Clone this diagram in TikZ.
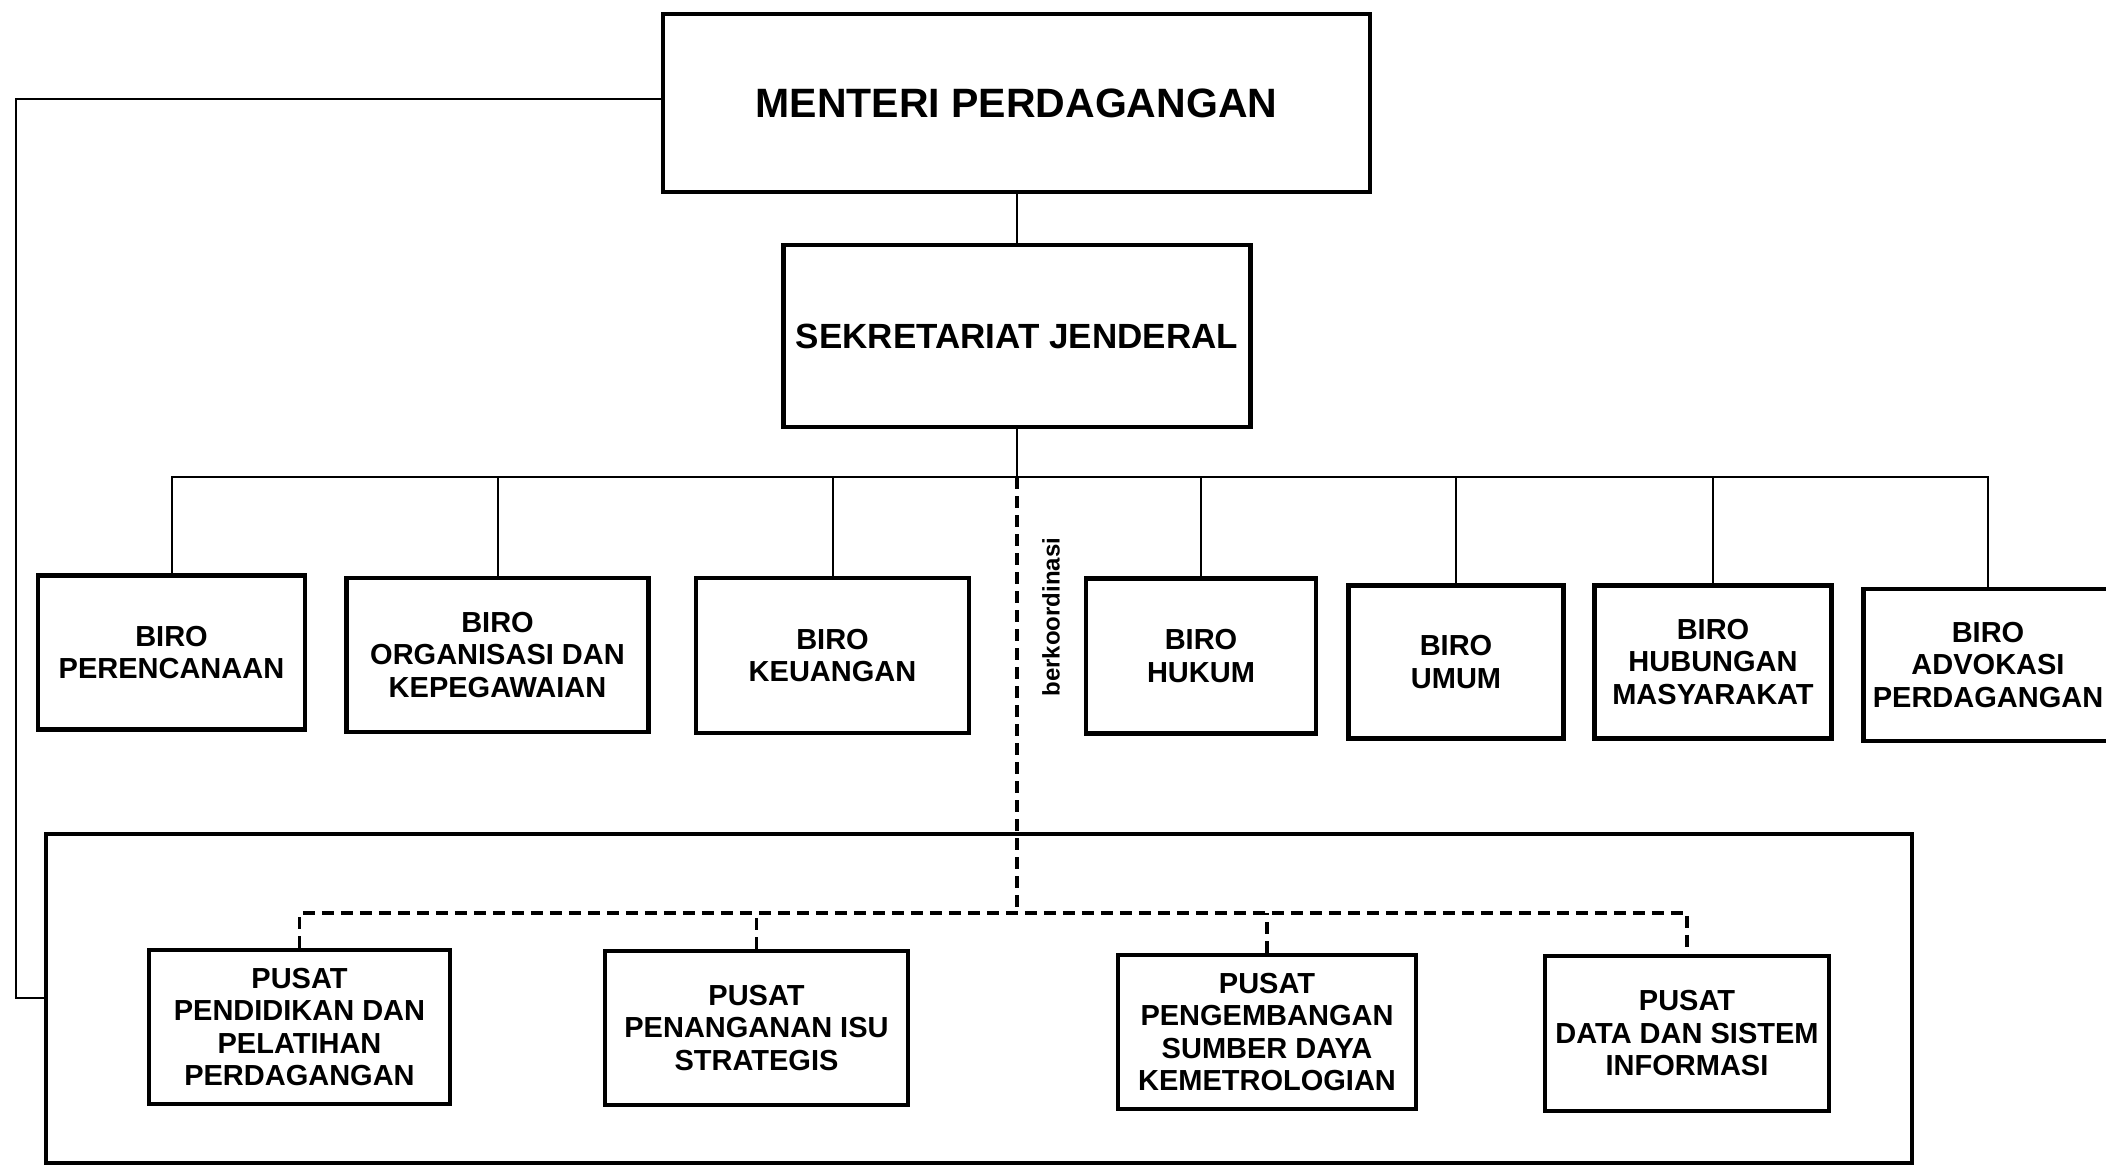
\documentclass[tikz,border=0pt]{standalone}
\usepackage{fontspec}
\setmainfont{Liberation Sans}
\begin{document}
\begin{tikzpicture}[x=1pt,y=-1pt,
  box/.style={draw, line width=4.5pt, align=center, inner sep=0pt,
    font=\bfseries\fontsize{29}{32.5}\selectfont},
  conn/.style={line width=2pt},
  dconn/.style={line width=3.5pt, dash pattern=on 12pt off 7pt},
]
\useasboundingbox (0,0) rectangle (2106,1170);
\fill[white] (0,0) rectangle (2106,1170);

% top
\node[box, minimum width=707, minimum height=178, font=\bfseries\fontsize{41}{46}\selectfont] (menteri) at (1016.5,103) {MENTERI PERDAGANGAN};
\node[box, minimum width=467, minimum height=182, font=\bfseries\fontsize{35}{40}\selectfont] (sekjen) at (1017,336) {SEKRETARIAT JENDERAL};

% biro
\node[box, minimum width=267, minimum height=154] (b1) at (171.5,652.5) {BIRO\\PERENCANAAN};
\node[box, minimum width=302, minimum height=154] (b2) at (497.5,655) {BIRO\\ORGANISASI DAN\\KEPEGAWAIAN};
\node[box, minimum width=273, minimum height=155] (b3) at (832.5,655.5) {BIRO\\KEUANGAN};
\node[box, minimum width=230, minimum height=155] (b4) at (1201,656) {BIRO\\HUKUM};
\node[box, minimum width=215, minimum height=153] (b5) at (1456,662) {BIRO\\UMUM};
\node[box, minimum width=237, minimum height=153] (b6) at (1713,662) {BIRO\\HUBUNGAN\\MASYARAKAT};
\node[box, minimum width=249, minimum height=152] (b7) at (1988,665) {BIRO\\ADVOKASI\\PERDAGANGAN};

% outer frame
\node[draw, line width=4.5pt, minimum width=1866, minimum height=329, inner sep=0pt] (outer) at (979,998.5) {};

% pusat
\node[box, minimum width=301, minimum height=154] (p1) at (299.5,1027) {PUSAT\\PENDIDIKAN DAN\\PELATIHAN\\PERDAGANGAN};
\node[box, minimum width=303, minimum height=154] (p2) at (756.5,1028) {PUSAT\\PENANGANAN ISU\\STRATEGIS};
\node[box, minimum width=298, minimum height=154] (p3) at (1267,1032) {PUSAT\\PENGEMBANGAN\\SUMBER DAYA\\KEMETROLOGIAN};
\node[box, minimum width=284, minimum height=155] (p4) at (1687,1033.5) {PUSAT\\DATA DAN SISTEM\\INFORMASI};

% label
\node[rotate=90, font=\bfseries\fontsize{24}{28}\selectfont, inner sep=0pt] (lbl) at (1051,617) {berkoordinasi};

% connectors
\coordinate (bus) at (1017,477);
\coordinate (dbus) at (1017,913);
\coordinate (lc1) at (16,99);
\coordinate (lc2) at (16,998);

\draw[conn] (menteri.south) -- (menteri.south |- sekjen.north);
\draw[conn] (sekjen.south) -- (bus);
\draw[conn] (b1.north) |- (bus) -| (b7.north);
\foreach \b in {b2,b3,b4,b5,b6} \draw[conn] (\b.north) -- (\b.north |- bus);

\draw[dconn] (bus) -- (dbus);
\draw[dconn] (p1.north) |- (dbus) -| (p4.north);
\foreach \p in {p2,p3} \draw[dconn] (\p.north) -- (\p.north |- dbus);

\draw[conn] (menteri.west |- lc1) -- (lc1) -- (lc2) -- (outer.west |- lc2);
\end{tikzpicture}
\end{document}
